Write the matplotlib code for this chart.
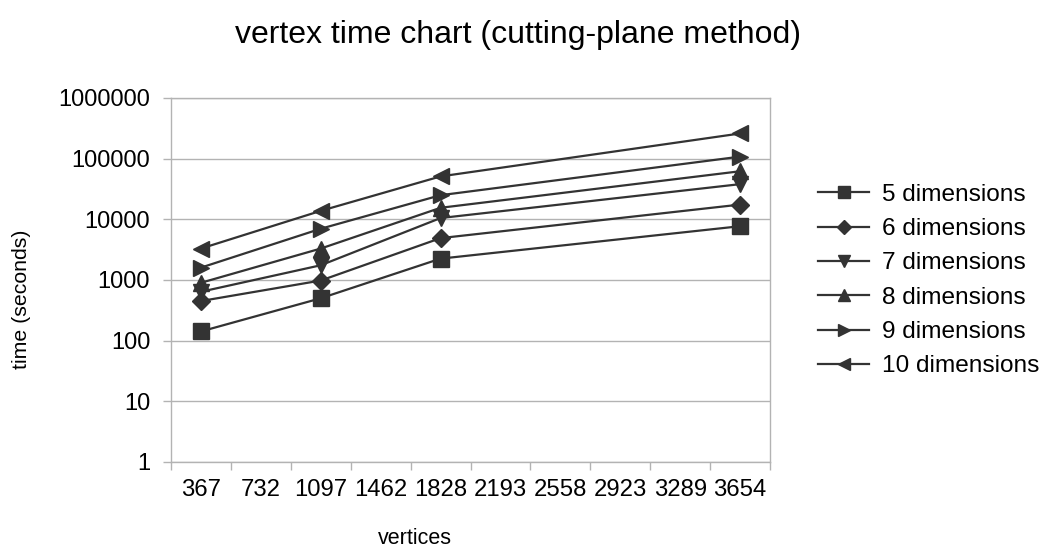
import matplotlib
matplotlib.use('Agg')
import matplotlib.pyplot as plt
from matplotlib.ticker import FixedLocator, NullFormatter, FixedFormatter

plt.rcParams['font.family'] = ['Liberation Sans', 'DejaVu Sans']

# category axis (vertices)
categories = ["367", "732", "1097", "1462", "1828", "2193", "2558", "2923", "3289", "3654"]
measured   = ["367", "1097", "1828", "3654"]

# time in seconds per dimension count
dims_5  = [142, 500, 2250, 7700]
dims_6  = [450, 980, 4900, 17500]
dims_7  = [640, 1750, 10500, 38000]
dims_8  = [900, 3300, 15500, 62000]
dims_9  = [1600, 7000, 25000, 108000]
dims_10 = [3300, 13800, 51000, 260000]

series = [
    ("5 dimensions",  dims_5,  "s", 11),
    ("6 dimensions",  dims_6,  "D", 9),
    ("7 dimensions",  dims_7,  "v", 12),
    ("8 dimensions",  dims_8,  "^", 12),
    ("9 dimensions",  dims_9,  ">", 12),
    ("10 dimensions", dims_10, "<", 12),
]

line_col = "#333333"
grid_col = "#b3b3b3"

fig = plt.figure(figsize=(10.46, 5.52), dpi=100)
ax = fig.add_axes([171/1046, 1-462/552, (770-171)/1046, (462-98)/552])

xpos = [categories.index(c) for c in measured]
for name, vals, mk, ms in series:
    ax.plot(xpos, vals, color=line_col, linewidth=1.6, marker=mk,
            markersize=ms, markerfacecolor=line_col, markeredgecolor=line_col,
            label=name)

ax.set_yscale("log")
ax.set_ylim(1, 1e6)
yticks = [1, 10, 100, 1000, 10000, 100000, 1000000]
ax.yaxis.set_major_locator(FixedLocator(yticks))
ax.yaxis.set_major_formatter(FixedFormatter([str(v) for v in yticks]))
ax.yaxis.set_minor_locator(FixedLocator([]))
ax.grid(axis="y", which="major", color=grid_col, linewidth=1.0)
ax.set_axisbelow(True)

ax.set_xlim(-0.5, len(categories) - 0.5)
ax.xaxis.set_major_locator(FixedLocator([i - 0.5 for i in range(len(categories) + 1)]))
ax.xaxis.set_major_formatter(NullFormatter())
ax.xaxis.set_minor_locator(FixedLocator(list(range(len(categories)))))
ax.xaxis.set_minor_formatter(FixedFormatter(categories))
ax.tick_params(axis="x", which="major", length=6, color=grid_col, width=1)
ax.tick_params(axis="x", which="minor", length=0, pad=12.5, labelsize=17.2)
ax.tick_params(axis="y", which="major", length=6, color=grid_col, width=1,
               pad=9, labelsize=17)

for sp in ax.spines.values():
    sp.set_color(grid_col)
    sp.set_linewidth(1.0)

fig.text(518/1046, 1-35/552, "vertex time chart (cutting-plane method)",
         fontsize=23, ha="center", va="center")
fig.text(415/1046, 1-538/552, "vertices", fontsize=15.5, ha="center", va="center")
fig.text(22/1046, 1-299/552, "time (seconds)", fontsize=15.3, ha="center",
         va="center", rotation=90)

fig.legend(loc="center left", bbox_to_anchor=(818/1046, 1-280.5/552),
           frameon=False, fontsize=17.6, handlelength=2.1, handletextpad=0.5,
           labelspacing=0.5, borderpad=0, borderaxespad=0, markerscale=0.75)

fig.savefig("out.png", dpi=100, facecolor="white")
